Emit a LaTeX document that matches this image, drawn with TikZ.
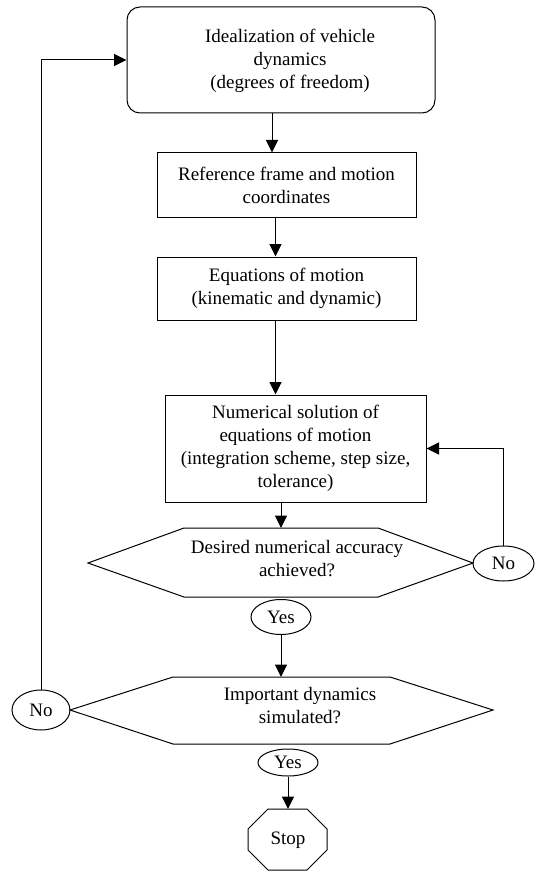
\documentclass[tikz,border=0pt]{standalone}
\usepackage{fontspec}
\setmainfont{Liberation Serif}
\usetikzlibrary{arrows.meta,shapes.geometric}
\begin{document}
\begin{tikzpicture}[x=1pt,y=-1pt,
  font=\fontsize{19}{23}\selectfont,
  line width=1pt,
  arr/.style={-{Triangle[length=12.5pt,width=12pt]}},
  box/.style={draw, fill=white, align=center, inner sep=0pt},
  txt/.style={align=center, inner sep=0pt},
  oval/.style={draw, ellipse, inner sep=0pt}]
\useasboundingbox (0,0) rectangle (535,877);

% process boxes
\node[box, rounded corners=13pt, minimum width=308pt, minimum height=106pt] (top) at (281,60) {};
\node[txt] (topt) at (290,61) {Idealization of vehicle\\dynamics\\(degrees of freedom)};
\node[box, minimum width=259pt, minimum height=65pt] (b2) at (286.5,185.5) {Reference frame and motion\\coordinates};
\node[box, minimum width=259pt, minimum height=63pt] (b3) at (286.5,288.5) {Equations of motion\\(kinematic and dynamic)};
\node[box, minimum width=261pt, minimum height=107pt] (b4) at (295.5,448.5) {Numerical solution of\\equations of motion\\(integration scheme, step size,\\tolerance)};

% decision 1
\coordinate (h1w) at (88,563);
\coordinate (h1e) at (473,563);
\coordinate (h1n) at (281,528);
\coordinate (h1s) at (281,597);
\draw (h1w) -- (184,528) -- (378,528) -- (h1e) -- (378,597) -- (184,597) -- cycle;
\node[txt] (h1t) at (297,559) {Desired numerical accuracy\\achieved?};

\node[oval, minimum width=61pt, minimum height=35pt] (n1) at (503.5,563.5) {No};
\node[oval, minimum width=60pt, minimum height=35pt] (y1) at (281,617) {Yes};

% decision 2
\coordinate (h2w) at (70,710);
\coordinate (h2e) at (493,710);
\coordinate (h2n) at (281,677);
\coordinate (h2s) at (281,744);
\draw (h2w) -- (173,677) -- (390,677) -- (h2e) -- (390,744) -- (173,744) -- cycle;
\node[txt] (h2t) at (300,706) {Important dynamics\\simulated?};

\node[oval, minimum width=58pt, minimum height=40pt] (n2) at (41,710) {No};
\node[oval, minimum width=60pt, minimum height=27pt] (y2) at (288,762.5) {Yes};

% stop
\coordinate (stn) at (288,809);
\draw (268,809) -- (307,809) -- (327,829) -- (327,850) -- (307,870) -- (268,870) -- (248,850) -- (248,829) -- cycle;
\node[txt] (stop) at (288,840) {Stop};

% connectors
\draw[arr] ([xshift=-9pt]top.south) -- ([xshift=-9pt]top.south |- b2.north);
\draw[arr] ([xshift=-11pt]b2.south) -- ([xshift=-11pt]b2.south |- b3.north);
\draw[arr] ([xshift=-11pt]b3.south) -- ([xshift=-11pt]b3.south |- b4.north);
\draw[arr] (b4.south -| h1n) -- (h1n);
\draw[arr] (n1.north) |- (b4.east);
\draw[arr] (y1.south) -- (h2n);
\draw[arr] (n2.north) |- (top.west);
\draw[arr] (y2.south) -- (stn);
\end{tikzpicture}
\end{document}
